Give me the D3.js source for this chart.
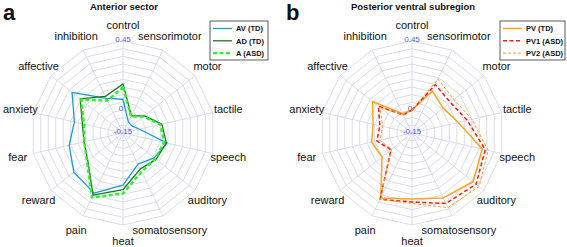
<!DOCTYPE html>
<html>
<head>
<meta charset="utf-8">
<script src="https://cdn.jsdelivr.net/npm/d3@7"></script>
<style>
  body { margin: 0; background: #fff; }
  text { font-family: "Liberation Sans", Arial, Helvetica, sans-serif; }
  .cat { font-size: 11px; fill: #111; }
  .tick { font-size: 8px; fill: #5a5af0; }
  .title { font-size: 9.5px; font-weight: bold; fill: #111; }
  .panel { font-size: 22px; font-weight: bold; fill: #111; }
  .leg { font-size: 7.5px; font-weight: bold; fill: #111; }
  .grid { fill: none; stroke: #d0d0ec; stroke-width: 0.8; }
</style>
</head>
<body>
<div id="chart"></div>
<script>
var categories = ["control", "sensorimotor", "motor", "tactile", "speech", "auditory",
  "somatosensory", "heat", "pain", "reward", "fear", "anxiety", "affective", "inhibition"];

var tick_values = [0.45, 0, -0.15];

// panel a: anterior sector
var av_td = [0.07, -0.07, -0.075, -0.04, 0.145, 0.11, 0.075, 0.19, 0.285, 0.26, 0.21, 0.175, 0.275, 0.10];
var ad_td = [0.17, -0.025, 0.03, 0.11, 0.14, 0.126, 0.11, 0.22, 0.30, 0.143, 0.111, 0.122, 0.207, 0.115];
var a_asd = [0.148, -0.03, 0.02, 0.10, 0.124, 0.12, 0.13, 0.245, 0.317, 0.15, 0.109, 0.111, 0.198, 0.085];

// panel b: posterior ventral subregion
var pv_td = [0.0, 0.155, 0.11, 0.16, 0.32, 0.36, 0.32, 0.28, 0.32, 0.10, 0.12, 0.11, 0.18, -0.01];
var pv1_asd = [0.0, 0.20, 0.17, 0.22, 0.34, 0.385, 0.36, 0.30, 0.33, 0.025, 0.085, 0.065, 0.13, -0.02];
var pv2_asd = [0.0, 0.24, 0.20, 0.25, 0.36, 0.41, 0.39, 0.31, 0.33, 0.02, 0.065, 0.045, 0.12, -0.02];

var width = 567, height = 247;
var radius = 92;

var svg = d3.select("#chart").append("svg")
  .attr("width", width)
  .attr("height", height);

var r = d3.scaleLinear().domain([-0.15, 0.45]).range([0, radius]);
var angle = d3.scaleLinear().domain([0, categories.length]).range([0, 2 * Math.PI]);

function pt(i, v) {
  var a = angle(i);
  return [r(v) * Math.sin(a), -r(v) * Math.cos(a)];
}

var radar_line = d3.line().curve(d3.curveLinearClosed);

function drawRadar(cx, cy, title, letter, letter_x, series, legend_x, legend_w) {
  var g = svg.append("g").attr("transform", "translate(" + cx + "," + cy + ")");

  // rings
  var rings = d3.range(1, 13).map((k) => -0.15 + k * 0.05);
  g.selectAll(".ring")
    .data(rings)
    .enter()
    .append("path")
    .attr("class", "grid")
    .attr("d", (v) => radar_line(categories.map((c, i) => pt(i, v))));

  // spokes
  g.selectAll(".spoke")
    .data(categories)
    .enter()
    .append("line")
    .attr("class", "grid")
    .attr("x1", 0).attr("y1", 0)
    .attr("x2", (d, i) => pt(i, 0.45)[0])
    .attr("y2", (d, i) => pt(i, 0.45)[1]);

  // category labels (kept inside the page on the left edge)
  g.selectAll(".cat")
    .data(categories)
    .enter()
    .append("text")
    .attr("class", "cat")
    .attr("x", (d, i) => 108 * Math.sin(angle(i)))
    .attr("y", (d, i) => -108 * Math.cos(angle(i)) + 4)
    .attr("text-anchor", "middle")
    .text((d) => d)
    .each(function () {
      var t = d3.select(this);
      var half = this.getComputedTextLength() / 2;
      var x = +t.attr("x");
      if (cx + x - half < 3) t.attr("x", 3 - cx + half);
    });

  // value ticks along the top spoke
  g.selectAll(".tick")
    .data(tick_values)
    .enter()
    .append("text")
    .attr("class", "tick")
    .attr("x", (d) => (d === 0 ? -2 : 0))
    .attr("y", (d) => -r(d) - 1.5)
    .attr("dominant-baseline", "central")
    .attr("text-anchor", "middle")
    .text((d) => String(d));

  // series
  series.forEach(function (s) {
    g.append("path")
      .datum(s.values)
      .attr("fill", "none")
      .attr("stroke", s.color)
      .attr("stroke-width", s.width)
      .attr("stroke-dasharray", s.dash)
      .attr("stroke-linejoin", "round")
      .attr("d", (vals) => radar_line(vals.map((v, i) => pt(i, v))));
  });

  svg.append("text")
    .attr("class", "title")
    .attr("x", cx + 1)
    .attr("y", 10)
    .attr("text-anchor", "middle")
    .text(title);

  svg.append("text")
    .attr("class", "panel")
    .attr("x", letter_x)
    .attr("y", 20)
    .text(letter);

  // legend
  var lg = svg.append("g").attr("transform", "translate(" + legend_x + ",21)");
  lg.append("rect")
    .attr("width", legend_w)
    .attr("height", 39)
    .attr("fill", "#fff")
    .attr("stroke", "#333")
    .attr("stroke-width", 0.8);
  series.forEach(function (s, k) {
    var y = 7.5 + k * 12.3;
    lg.append("line")
      .attr("x1", 3).attr("x2", 22)
      .attr("y1", y).attr("y2", y)
      .attr("stroke", s.color)
      .attr("stroke-width", s.width)
      .attr("stroke-dasharray", s.dash);
    lg.append("text")
      .attr("class", "leg")
      .attr("x", 26)
      .attr("y", y + 2.7)
      .text(s.name);
  });
}

drawRadar(123, 133, "Anterior sector", "a", 3, [
  { name: "AV (TD)", values: av_td, color: "#1b9ad6", width: 1.3, dash: null },
  { name: "AD (TD)", values: ad_td, color: "#1a781a", width: 1.3, dash: null },
  { name: "A (ASD)", values: a_asd, color: "#2ef02e", width: 2.4, dash: "4,2.5" }
], 210, 58);

drawRadar(412, 133, "Posterior ventral subregion", "b", 286, [
  { name: "PV (TD)", values: pv_td, color: "#ffa41c", width: 1.5, dash: null },
  { name: "PV1 (ASD)", values: pv1_asd, color: "#ff1a1a", width: 1.5, dash: "4,2.5" },
  { name: "PV2 (ASD)", values: pv2_asd, color: "#ff9d1a", width: 1, dash: "3,2" }
], 500, 65);
</script>
</body>
</html>
